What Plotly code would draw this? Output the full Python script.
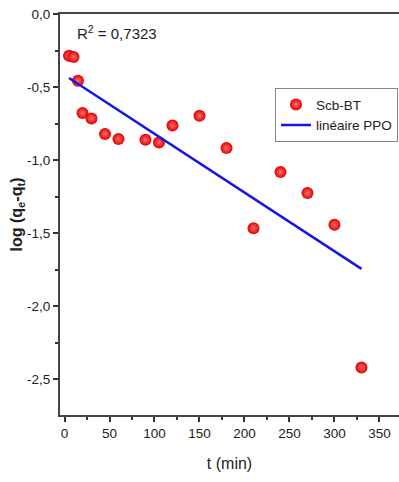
import plotly.graph_objects as go

t_data = [5, 10, 15, 20, 30, 45, 60, 90, 105, 120, 150, 180, 210, 240, 270, 300, 330]
y_data = [-0.286, -0.295, -0.457, -0.678, -0.715, -0.822, -0.856, -0.861, -0.879,
          -0.763, -0.697, -0.918, -1.466, -1.082, -1.226, -1.443, -2.42]
line_t = [5, 330]
line_y = [-0.438, -1.745]

x_ticks = [0, 50, 100, 150, 200, 250, 300, 350]
y_ticks = [0.0, -0.5, -1.0, -1.5, -2.0, -2.5]
y_tick_labels = ["0,0", "-0,5", "-1,0", "-1,5", "-2,0", "-2,5"]

font = "Liberation Sans, Arial, sans-serif"

fig = go.Figure()
fig.add_trace(go.Scatter(
    x=t_data, y=y_data, mode="markers", name="Scb-BT",
    marker=dict(size=12, color="rgb(225,0,0)",
                gradient=dict(type="radial", color="rgb(255,110,110)"),
                line=dict(width=0)),
))
fig.add_trace(go.Scatter(
    x=line_t, y=line_y, mode="lines", name="linéaire PPO",
    line=dict(color="rgb(20,20,235)", width=2.5),
))

fig.update_layout(
    width=399, height=482,
    margin=dict(l=60, r=0, t=14, b=67, autoexpand=False),
    paper_bgcolor="white", plot_bgcolor="white",
    separators=",.",
    font=dict(family=font, size=13, color="#222"),
    showlegend=True,
    legend=dict(x=0.997, y=0.815, xanchor="right", yanchor="top",
                bordercolor="#888", borderwidth=1, bgcolor="white",
                font=dict(size=13.5, color="#222", family=font),
                tracegroupgap=0, itemwidth=30),
    annotations=[dict(x=0.045, y=0.955, xref="paper", yref="paper",
                      xanchor="left", yanchor="middle", showarrow=False,
                      text="R<sup>2</sup> = 0,7323",
                      font=dict(size=15, color="#222", family=font))],
)
fig.update_xaxes(
    range=[-5, 371.7], tickmode="array", tickvals=x_ticks,
    ticks="outside", ticklen=5, tickwidth=1.5, tickcolor="#333",
    showline=True, linecolor="#444", linewidth=2, mirror=True,
    showgrid=False, zeroline=False,
    minor=dict(dtick=25, ticks="outside", ticklen=3, tickwidth=1.5, tickcolor="#333"),
    tickfont=dict(size=13.5, color="#222"),
    title=dict(text="t (min)", font=dict(size=16, color="#222"), standoff=18),
)
fig.update_yaxes(
    range=[-2.745, 0], tickmode="array", tickvals=y_ticks, ticktext=y_tick_labels,
    ticks="outside", ticklen=5, tickwidth=1.5, tickcolor="#333",
    showline=True, linecolor="#444", linewidth=2, mirror=False,
    showgrid=False, zeroline=False,
    minor=dict(dtick=0.25, tick0=0, ticks="outside", ticklen=3, tickwidth=1.5, tickcolor="#333"),
    tickfont=dict(size=13.5, color="#222"),
    title=dict(text="<b>log (q<sub>e</sub>-q<sub>t</sub>)</b>",
               font=dict(size=16, color="#222", family=font), standoff=0),
)
fig.write_html("out.html")
